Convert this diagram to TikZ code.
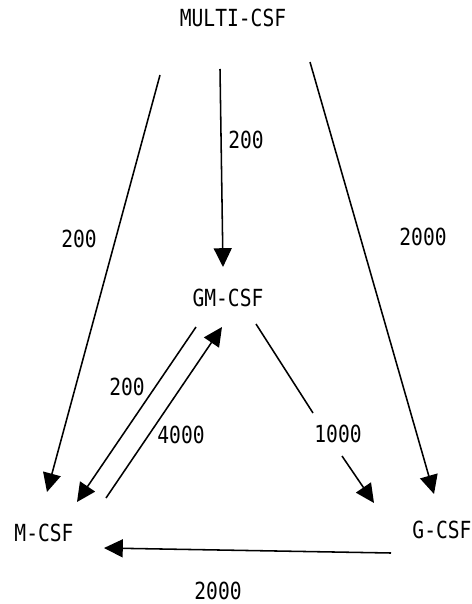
\documentclass[tikz,border=0pt]{standalone}
\usepackage{fontspec}
\newfontfamily\csffont{DejaVu Sans Mono}
\usepackage{tikz}
\usetikzlibrary{arrows.meta, calc}
\tikzset{
  factor/.style={font=\csffont\fontsize{15.5}{18}\selectfont, xscale=0.9, yscale=1.08, inner sep=0pt},
  dose/.style={factor},
  arr/.style={line width=1.1pt, -{Triangle[length=0.47cm, width=0.45cm]}},
}

\begin{document}
\begin{tikzpicture}[x=0.025cm, y=-0.025cm]
        \useasboundingbox (0,0) rectangle (472,604);

        % growth factors
        \node[factor] (multi) at (233,18) {MULTI-CSF};
        \node[factor] (gm) at (228,298) {GM-CSF};
        \node[factor] (m) at (44,533) {M-CSF};
        \node[factor] (g) at (442,530) {G-CSF};

        % from MULTI-CSF
        \draw[arr] ($(multi)+(-13,51)$) -- ($(gm)+(-5,-31)$);
        \draw[arr] ($(multi)+(-73,57)$) -- ($(m)+(3,-41)$);
        \draw[arr] ($(multi)+(77,44)$) -- ($(g)+(-8,-36)$);

        % between GM-CSF and M-CSF
        \draw[arr] ($(gm)+(-32,29)$) -- ($(m)+(33,-31)$);
        \draw[arr] ($(m)+(62,-35)$) -- ($(gm)+(-6,29)$);

        % GM-CSF to G-CSF, broken for the label
        \draw[arr] ($(gm)+(28,26)$) -- ($(gm)+(85,115)$)
                   ($(g)+(-100,-74)$) -- ($(g)+(-68,-27)$);

        % G-CSF to M-CSF
        \draw[arr] ($(g)+(-51,23)$) -- ($(m)+(60,15)$);

        % doses
        \node[dose] (d1) at (246,140) {200};
        \node[dose] (d2) at (79,239) {200};
        \node[dose] (d3) at (423,237) {2000};
        \node[dose] (d4) at (127,387) {200};
        \node[dose] (d5) at (181,435) {4000};
        \node[dose] (d6) at (338,434) {1000};
        \node[dose] (d7) at (218,591) {2000};
    \end{tikzpicture}
\end{document}
